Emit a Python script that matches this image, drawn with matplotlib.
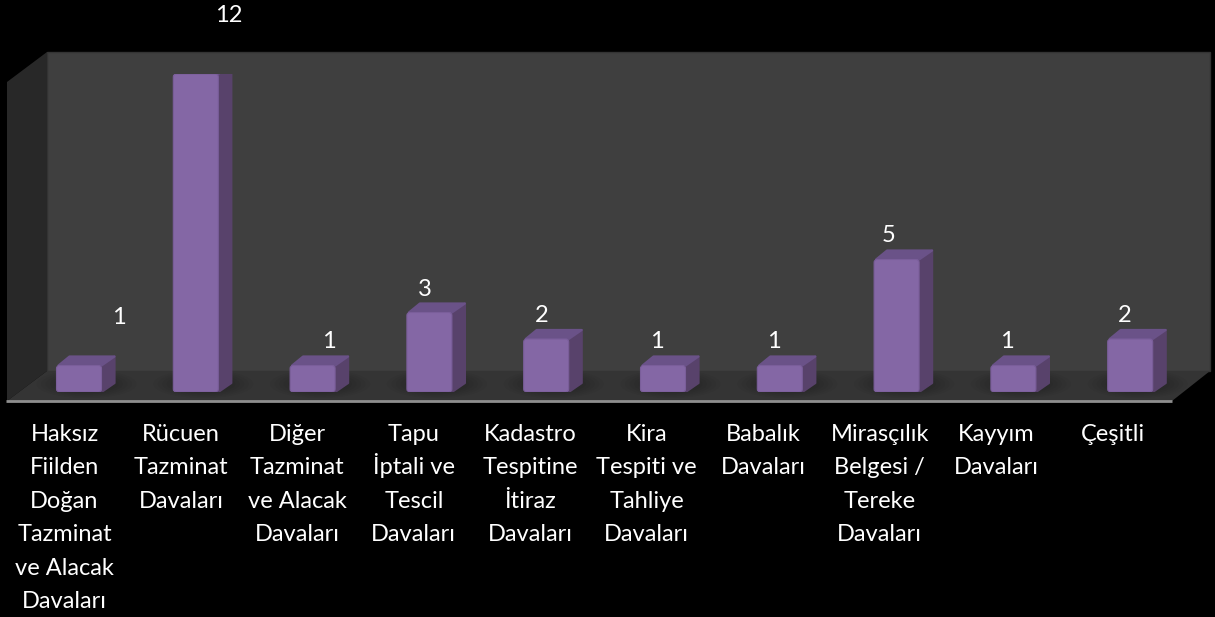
import matplotlib
matplotlib.use("Agg")
import matplotlib.pyplot as plt
from matplotlib.patches import FancyBboxPatch, Polygon, Ellipse

categories = [
    "Haksız\nFiilden\nDoğan\nTazminat\nve Alacak\nDavaları",
    "Rücuen\nTazminat\nDavaları",
    "Diğer\nTazminat\nve Alacak\nDavaları",
    "Tapu\nİptali ve\nTescil\nDavaları",
    "Kadastro\nTespitine\nİtiraz\nDavaları",
    "Kira\nTespiti ve\nTahliye\nDavaları",
    "Babalık\nDavaları",
    "Mirasçılık\nBelgesi /\nTereke\nDavaları",
    "Kayyım\nDavaları",
    "Çeşitli",
]
values = [1, 12, 1, 3, 2, 1, 1, 5, 1, 2]
label_dx = [40, 33, 16, -5, -5, -6, -6, -8, -7, -6]
label_dy = [37, 48, 14, 13, 13, 14, 14, 14, 14, 13]

W, H = 1215, 617
FRONT = "#8467a5"
SIDE = "#58426b"
TOP = "#6a5288"

plt.rcParams["font.family"] = ["Lato", "DejaVu Sans"]
fig = plt.figure(figsize=(W / 100, H / 100), dpi=100, facecolor="black")

# chart box (walls and floor), in pixels
bg = fig.add_axes([0, 0, 1, 1])
bg.set_xlim(0, W)
bg.set_ylim(H, 0)
bg.axis("off")
bg.add_patch(Polygon([(47, 52), (1210, 52), (1210, 371), (47, 371)], fc="#3f3f3f", ec="#333333", lw=1))
bg.add_patch(Polygon([(7, 82), (47, 52), (47, 371), (7, 401)], fc="#282828", ec="none"))
floor = Polygon([(7, 401), (47, 371), (1210, 371), (1172, 401)], fc="#343434", ec="none")
bg.add_patch(floor)
bg.plot([6, 1172], [401, 401], color="#8e8e8e", lw=2, solid_capstyle="butt")

step = 116.8
for i in range(len(values)):
    cx = 78.5 + step * i + 8
    for k in range(8):
        e = Ellipse((cx, 384), 100 - k * 9, 28 - k * 2.5, fc="black", ec="none", alpha=0.035)
        bg.add_patch(e)
        e.set_clip_path(floor)

# bars
ax = fig.add_axes([20.6 / W, (H - 392) / H, step * 10 / W, 318 / H])
ax.patch.set_alpha(0)
ax.set_xlim(-0.5, 9.5)
ax.set_ylim(0, 12)
ax.axis("off")

ux = 1 / step
uy = 12 / 318
dx, dy = 13 * ux, 9 * uy
bw = 45 * ux
for i, v in enumerate(values):
    x0, x1 = i - bw / 2, i + bw / 2
    ax.add_patch(Polygon([(x1, 0), (x1 + dx, dy), (x1 + dx, v + dy), (x1, v)],
                         fc=SIDE, ec=SIDE, lw=1.6, joinstyle="round", zorder=3))
    ax.add_patch(Polygon([(x0 + 2 * ux, v), (x0 + dx, v + dy), (x1 + dx, v + dy), (x1, v)],
                         fc=TOP, ec=TOP, lw=1.6, joinstyle="round", zorder=3))
    ax.add_patch(FancyBboxPatch((x0, 0), bw, v, boxstyle="round,pad=0,rounding_size=%f" % (3 * ux),
                                mutation_aspect=uy / ux, fc=FRONT, ec="#7a5e9a", lw=0.8, zorder=4))
    ax.annotate(str(v), xy=(i, v), xytext=(label_dx[i] * 0.72, label_dy[i] * 0.72),
                textcoords="offset points", ha="center", va="bottom",
                color="white", fontsize=17, annotation_clip=False)

    # category label, one text per line so the İ does not stretch the spacing
    for n, line in enumerate(categories[i].split("\n")):
        ax.annotate(line, xy=(i, 0), xytext=((-14.5 - 0.35 * i) * 0.72, -(49 + n * 33.4) * 0.72),
                    textcoords="offset points", ha="center", va="baseline",
                    color="white", fontsize=17, annotation_clip=False)

fig.savefig("out.png", dpi=100, facecolor="black")
